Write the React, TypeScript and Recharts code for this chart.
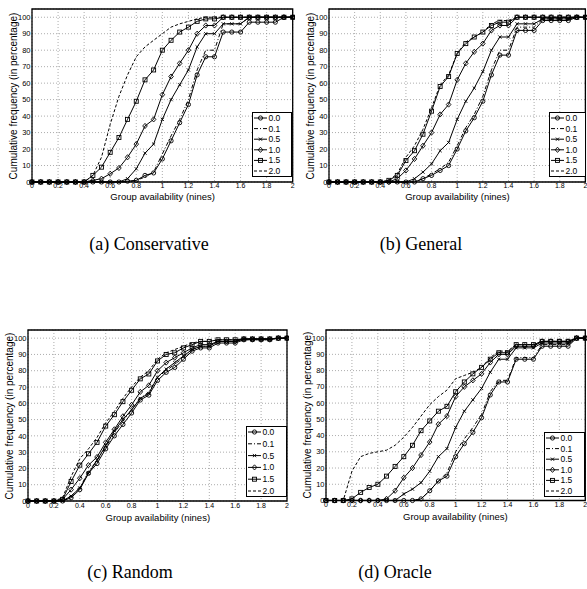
import React from "react";
import { LineChart, Line, XAxis, YAxis, CartesianGrid, ReferenceArea } from "recharts";

// sample points on the x axis (nines), 1/15 apart
const X_VALUES = [0, 0.067, 0.133, 0.2, 0.267, 0.333, 0.4, 0.467, 0.533, 0.6, 0.667, 0.733, 0.8, 0.867, 0.933, 1, 1.067, 1.133, 1.2, 1.267, 1.333, 1.4, 1.467, 1.533, 1.6, 1.667, 1.733, 1.8, 1.867, 1.933, 2];
const X_TICKS = [0, 0.2, 0.4, 0.6, 0.8, 1, 1.2, 1.4, 1.6, 1.8, 2];
const Y_TICKS = [0, 10, 20, 30, 40, 50, 60, 70, 80, 90, 100];
const SERIES_NAMES = ["0.0", "0.1", "0.5", "1.0", "1.5", "2.0"];

// (a) Conservative
const CONS_00 = [0, 0, 0, 0, 0, 0, 0, 0, 0, 0, 0, 0.5, 1, 4, 5.5, 14, 25, 36, 47, 65, 76, 76, 91, 91, 91, 97, 97, 97, 97, 100, 100];
const CONS_01 = [0, 0, 0, 0, 0, 0, 0, 0, 0, 0, 0, 0, 1, 3, 6, 17, 28, 38, 50, 68, 80, 80, 96, 96, 96, 100, 100, 100, 100, 100, 100];
const CONS_05 = [0, 0, 0, 0, 0, 0, 0, 0, 0, 0, 0, 2, 8, 17.5, 23, 38, 50, 59, 68, 82, 90, 90, 96, 96, 96, 100, 100, 100, 100, 100, 100];
const CONS_10 = [0, 0, 0, 0, 0, 0, 0, 1, 2, 5, 8.5, 15, 23, 34, 38, 53, 64, 72, 80, 90, 95, 95, 100, 100, 100, 100, 100, 100, 100, 100, 100];
const CONS_15 = [0, 0, 0, 0, 0, 0, 0, 4, 9, 18, 27, 38, 49, 62, 68, 80, 86, 91, 94, 97.5, 99, 99, 100, 100, 100, 100, 100, 100, 100, 100, 100];
const CONS_20 = [0, 0, 0, 0, 0, 0, 0, 4, 15, 35, 52, 65, 76, 82, 86, 90, 94, 96, 97.5, 99, 100, 100, 100, 100, 100, 100, 100, 100, 100, 100, 100];

// (b) General
const GEN_00 = [0, 0, 0, 0, 0, 0, 0, 0, 0, 0, 0, 2, 4, 7, 10, 20, 31, 39, 49, 65, 77, 77, 92, 92, 92, 98, 98, 98, 98, 100, 100];
const GEN_01 = [0, 0, 0, 0, 0, 0, 0, 0, 0, 0, 0, 2, 5, 8, 12, 22, 33, 41, 52, 68, 80, 80, 94, 94, 94, 99, 99, 99, 99, 100, 100];
const GEN_05 = [0, 0, 0, 0, 0, 0, 0, 0, 0, 0, 2, 6, 11, 19, 24, 38, 49, 57, 67, 80, 88, 88, 96, 96, 96, 99, 99, 99, 99, 100, 100];
const GEN_10 = [0, 0, 0, 0, 0, 0, 0, 0, 2, 7, 14, 22, 30, 41, 47, 62, 72, 79, 84, 92, 95, 95, 100, 100, 100, 100, 100, 100, 100, 100, 100];
const GEN_15 = [0, 0, 0, 0, 0, 0, 0, 1, 4, 13, 19, 29, 43, 58, 64, 78, 84, 88, 91, 95, 97, 97, 100, 100, 100, 100, 100, 100, 100, 100, 100];
const GEN_20 = [0, 0, 0, 0, 0, 0, 0, 1, 5, 15, 22, 32, 45, 59, 65, 78, 85, 88, 91, 96, 98, 98, 100, 100, 100, 100, 100, 100, 100, 100, 100];

// (c) Random
const RAND_00 = [0, 0, 0, 0, 0, 2, 7, 17, 23, 32, 40, 47, 54, 62, 65, 74, 79, 82, 87, 92, 94, 94, 97, 97, 97, 99, 99, 99, 99, 100, 100];
const RAND_01 = [0, 0, 0, 0, 0, 3, 8, 18, 25, 33, 42, 49, 56, 63, 67, 76, 80, 84, 88, 93, 95, 95, 98, 98, 98, 99, 99, 99, 99, 100, 100];
const RAND_05 = [0, 0, 0, 0, 0, 3, 8, 17, 25, 34, 43, 50, 56, 63, 66, 76, 81, 85, 89, 93, 95, 95, 98, 98, 98, 99.5, 99.5, 99.5, 99.5, 100, 100];
const RAND_10 = [0, 0, 0, 0, 1, 7, 14, 22, 27, 36, 44, 52, 59, 67, 71, 80, 85, 88, 91, 94, 96, 96, 98, 98, 98, 99.5, 99.5, 99.5, 99.5, 100, 100];
const RAND_15 = [0, 0, 0, 0, 1, 12, 22, 29, 36, 46, 53, 61, 68, 75, 78, 86, 90, 91, 94, 96, 98, 98, 99, 99, 99, 99.5, 99.5, 99.5, 99.5, 100, 100];
const RAND_20 = [0, 0, 0, 0, 2, 15, 26, 32, 39, 48, 55, 63, 70, 76, 80, 87, 91, 93, 95, 97, 98, 98, 99, 99, 99, 99.5, 99.5, 99.5, 99.5, 100, 100];

// (d) Oracle
const ORA_00 = [0, 0, 0, 0, 0, 0, 0, 0, 0, 0, 0, 1, 6, 12, 15, 27, 35, 42, 51, 65, 73, 73, 87, 87, 87, 95, 95, 95, 95, 100, 100];
const ORA_01 = [0, 0, 0, 0, 0, 0, 0, 0, 0, 0, 0, 1, 6, 12, 17, 30, 38, 45, 53, 67, 74, 74, 88, 88, 88, 96, 96, 96, 96, 100, 100];
const ORA_05 = [0, 0, 0, 0, 0, 0, 0, 0, 0, 4, 7, 11, 18, 27, 32, 45, 55, 62, 69, 79, 87, 87, 94, 94, 94, 97, 97, 97, 97, 100, 100];
const ORA_10 = [0, 0, 0, 0, 0, 0, 0, 1, 6, 14, 20, 28, 36, 47, 52, 64, 70, 74, 78, 85, 90, 90, 95, 95, 95, 98, 98, 98, 98, 100, 100];
const ORA_15 = [0, 0, 0, 1, 5, 8, 10, 15, 21, 27, 34, 43, 49, 55, 58, 67, 73, 78, 82, 87, 91, 91, 96, 96, 96, 98, 98, 98, 98, 100, 100];
const ORA_20 = [0, 0, 0, 18, 27, 29, 30, 31, 34, 39, 45, 52, 59, 64, 68, 75, 77, 79, 82, 88, 92, 92, 96, 96, 96, 98, 98, 98, 98, 100, 100];

const FONT = '"Liberation Sans", Arial, Helvetica, sans-serif';

// marker + dash per series, same order as SERIES_NAMES
const STYLES = [
  { shape: "circle", dash: undefined },
  { shape: null, dash: "4 2 1 2" },
  { shape: "x", dash: undefined },
  { shape: "diamond", dash: undefined },
  { shape: "square", dash: undefined },
  { shape: null, dash: "3 2" },
];

function Marker({ cx, cy, shape }: { cx?: number; cy?: number; shape: string }) {
  if (cx == null || cy == null) return null;
  const s = { fill: "none", stroke: "#000", strokeWidth: 0.9 };
  if (shape === "circle") return <circle cx={cx} cy={cy} r={2.1} {...s} />;
  if (shape === "square") return <rect x={cx - 2} y={cy - 2} width={4} height={4} {...s} />;
  if (shape === "diamond")
    return <polygon points={`${cx},${cy - 2.6} ${cx + 2.3},${cy} ${cx},${cy + 2.6} ${cx - 2.3},${cy}`} {...s} />;
  return (
    <g stroke="#000" strokeWidth={0.9}>
      <line x1={cx - 1.6} y1={cy - 1.6} x2={cx + 1.6} y2={cy + 1.6} />
      <line x1={cx - 1.6} y1={cy + 1.6} x2={cx + 1.6} y2={cy - 1.6} />
    </g>
  );
}

function LegendBox({ box }: { box: { x: number; y: number; w: number; h: number } }) {
  const rowH = (box.h - 12) / 5;
  return (
    <svg style={{ position: "absolute", left: box.x, top: box.y }} width={box.w} height={box.h}>
      <rect x={0.5} y={0.5} width={box.w - 1} height={box.h - 1} fill="#fff" stroke="#000" strokeWidth={1} />
      {SERIES_NAMES.map((name, i) => {
        const y = 6 + i * rowH;
        const st = STYLES[i];
        return (
          <g key={name}>
            <line x1={2} x2={15} y1={y} y2={y} stroke="#000" strokeWidth={1} strokeDasharray={st.dash} />
            {st.shape && <Marker cx={8.5} cy={y} shape={st.shape} />}
            <text x={16.5} y={y} dominantBaseline="central" fontSize={8.5} fontFamily={FONT}>
              {name}
            </text>
          </g>
        );
      })}
    </svg>
  );
}

const PANELS = [
  {
    caption: "(a) Conservative", series: [CONS_00, CONS_01, CONS_05, CONS_10, CONS_15, CONS_20],
    plot: { x: 32.3, y: 9, w: 260.7, h: 173 }, legend: { x: 252, y: 112, w: 40, h: 65 },
    tickGap: 1, labelGap: 14.5, cap: { x: 149, y: 244 },
  },
  {
    caption: "(b) General", series: [GEN_00, GEN_01, GEN_05, GEN_10, GEN_15, GEN_20],
    plot: { x: 329.3, y: 9, w: 256.4, h: 173 }, legend: { x: 549, y: 112, w: 37, h: 65 },
    tickGap: 1, labelGap: 15, cap: { x: 421, y: 244 },
  },
  {
    caption: "(c) Random", series: [RAND_00, RAND_01, RAND_05, RAND_10, RAND_15, RAND_20],
    plot: { x: 28.3, y: 330, w: 259, h: 171 }, legend: { x: 246, y: 426, w: 41, h: 71 },
    tickGap: 2.5, labelGap: 17, cap: { x: 130, y: 572 },
  },
  {
    caption: "(d) Oracle", series: [ORA_00, ORA_01, ORA_05, ORA_10, ORA_15, ORA_20],
    plot: { x: 325.7, y: 329.5, w: 259.3, h: 170.5 }, legend: { x: 544, y: 432, w: 41, h: 65 },
    tickGap: 2, labelGap: 16.5, cap: { x: 395, y: 572 },
  },
];

const YAXIS_W = 34;
const XAXIS_H = 26;
const M = { top: 4, right: 2, bottom: 0, left: 0 };

function Panel({ p }: { p: (typeof PANELS)[number] }) {
  const data = X_VALUES.map((x, i) => {
    const row: Record<string, number> = { x };
    p.series.forEach((s, k) => (row["s" + k] = s[i]));
    return row;
  });
  const left = p.plot.x - YAXIS_W - M.left;
  const top = p.plot.y - M.top;
  const width = p.plot.w + YAXIS_W + M.left + M.right;
  const height = p.plot.h + XAXIS_H + M.top + M.bottom;
  const tickStyle = { fontSize: 7, fill: "#000", fontFamily: FONT };
  return (
    <>
      <div style={{ position: "absolute", left, top }}>
        <LineChart width={width} height={height} data={data} margin={M}>
          <CartesianGrid stroke="#888" strokeDasharray="1 2" strokeWidth={0.7} />
          <XAxis
            dataKey="x" type="number" domain={[0, 2]} ticks={X_TICKS} height={XAXIS_H}
            axisLine={false} tickLine={false} tickSize={0} tickMargin={p.tickGap} tick={tickStyle}
            interval={0}
          />
          <YAxis
            type="number" domain={[0, 105]} ticks={Y_TICKS} width={YAXIS_W}
            axisLine={false} tickLine={false} tickSize={0} tickMargin={1.5} tick={{ ...tickStyle, fontSize: 7.5 }}
            interval={0}
          />
          {p.series.map((_, k) => (
            <Line
              key={k} type="linear" dataKey={"s" + k} stroke="#000" strokeWidth={1}
              strokeDasharray={STYLES[k].dash}
              dot={STYLES[k].shape ? (props: any) => <Marker key={props.index} cx={props.cx} cy={props.cy} shape={STYLES[k].shape as string} /> : false}
              activeDot={false} isAnimationActive={false}
            />
          ))}
          <ReferenceArea x1={0} x2={2} y1={0} y2={105} fill="none" fillOpacity={0} stroke="#000" strokeWidth={1.3} />
        </LineChart>
      </div>
      <div
        style={{
          position: "absolute", left: p.plot.x - 19, top: p.plot.y + p.plot.h / 2,
          transform: "translate(-50%, -50%) rotate(-90deg)", whiteSpace: "nowrap",
          fontSize: 10, fontFamily: FONT,
        }}
      >
        Cumulative frequency (in percentage)
      </div>
      <div
        style={{
          position: "absolute", left: p.plot.x + p.plot.w / 2, top: p.plot.y + p.plot.h + p.labelGap,
          transform: "translate(-50%, -50%)", whiteSpace: "nowrap", fontSize: 9.5, fontFamily: FONT,
          lineHeight: 1,
        }}
      >
        Group availability (nines)
      </div>
      <LegendBox box={p.legend} />
      <div
        style={{
          position: "absolute", left: p.cap.x, top: p.cap.y, transform: "translate(-50%, -50%)",
          whiteSpace: "nowrap", fontSize: 18, fontFamily: '"Liberation Serif", "Times New Roman", serif',
        }}
      >
        {p.caption}
      </div>
    </>
  );
}

export default function App() {
  return (
    <div style={{ position: "absolute", left: 0, top: 0, width: 587, height: 589, background: "#fff", overflow: "hidden" }}>
      {PANELS.map((p) => (
        <Panel key={p.caption} p={p} />
      ))}
    </div>
  );
}
